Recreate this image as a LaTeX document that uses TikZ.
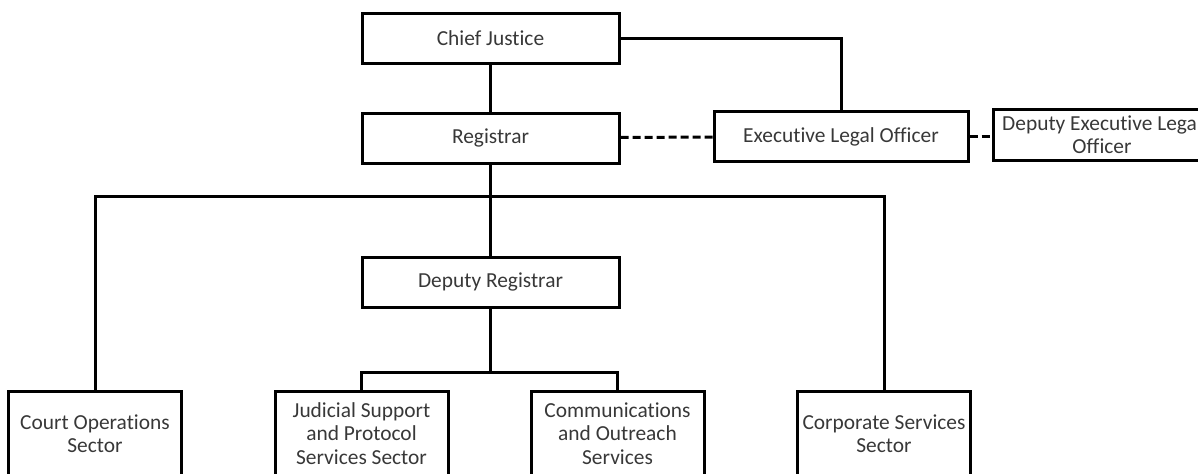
\documentclass[tikz,border=0pt]{standalone}
\usepackage{fontspec}
\setmainfont{Carlito}[Ligatures=NoCommon]
\usetikzlibrary{calc,positioning}

\begin{document}
\begin{tikzpicture}[x=0.5pt, y=-0.5pt,
        box/.style={draw, line width=1.5pt, inner sep=0pt, align=center,
            minimum height=25pt, text=black!78,
            font=\fontsize{10.7}{11.75}\selectfont},
        office/.style={box, minimum width=128.5pt},
        sector/.style={box, minimum width=86.5pt, minimum height=42.5pt},
        link/.style={line width=1.5pt},
        staff link/.style={link, dash pattern=on 4pt off 2pt}]
    \useasboundingbox (0, 0) rectangle (1198, 473);
    \clip (0, 0) rectangle (1198, 473);

    \node[office] (chief) at (490.5, 38.5) {Chief Justice};
    \node[office] (registrar) at (490.5, 138) {Registrar};
    \node[box, minimum width=127pt] (elo) at (841, 136.5) {Executive Legal Officer};
    \node[box, minimum width=109pt, minimum height=25.5pt] (delo) at (1102, 134.5)
        {Deputy Executive Legal\\Officer};
    \node[office] (depreg) at (490.5, 282) {Deputy Registrar};

    \node[sector] (court) at (95, 433.5) {Court Operations\\Sector};
    \node[sector] (judicial) at (361.5, 433.5) {Judicial Support\\and Protocol\\Services Sector};
    \node[sector] (comms) at (617.5, 433.5) {Communications\\and Outreach\\Services};
    \node[sector] (corporate) at (884, 433.5) {Corporate Services\\Sector};

    \coordinate (bus) at (490.5, 196.5);
    \coordinate (split) at (490.5, 372.5);

    \draw[link] (chief) -- (registrar);
    \draw[link] (chief.east) -| (elo.north);
    \draw[staff link] (registrar) -- (elo);
    \draw[staff link] (elo) -- (delo.west |- elo);
    \draw[link] (registrar) -- (depreg);
    \draw[link] (court.north) |- (bus) -| (corporate.north);
    \draw[link] (depreg) -- (split);
    \draw[link] (judicial.north) |- (split) -| (comms.north);
\end{tikzpicture}
\end{document}
